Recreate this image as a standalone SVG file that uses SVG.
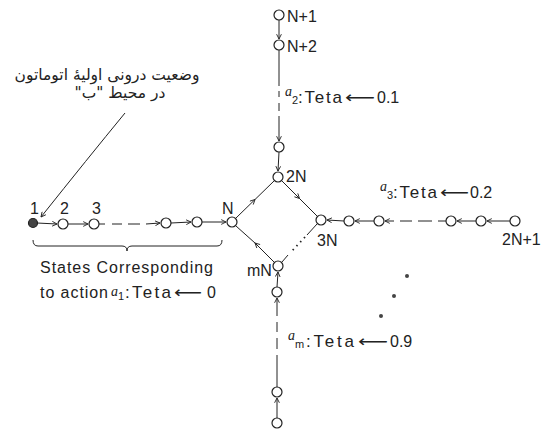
<svg xmlns="http://www.w3.org/2000/svg" width="542" height="430" viewBox="0 0 542 430">
<defs>
<marker id="ah" viewBox="0 0 10 10" refX="9" refY="5" markerWidth="6" markerHeight="6" orient="auto" markerUnits="userSpaceOnUse">
<path d="M1,1 L9,5 L1,9" fill="none" stroke="#222" stroke-width="1.5"/>
</marker>
</defs>
<style>
.n{fill:#fff;stroke:#222;stroke-width:1.2}
.f{fill:#444;stroke:#222;stroke-width:1.2}
.e{fill:none;stroke:#222;stroke-width:1;marker-end:url(#ah)}
.em{fill:none;stroke:#222;stroke-width:1;marker-mid:url(#ah)}
.t{font-family:"Liberation Sans",Arial,sans-serif;font-size:16px;font-style:normal;fill:#222}
.tt{font-family:"Liberation Sans",Arial,sans-serif;font-size:17px;font-style:normal;fill:#222}
.a{font-family:"Liberation Serif",serif;font-style:italic;font-size:14px;fill:#222}
.s{font-family:"Liberation Sans",Arial,sans-serif;font-style:normal;font-size:11px;fill:#222}
.arw{font-family:"DejaVu Sans",sans-serif;font-size:16px;fill:#222}
.ar{font-family:"DejaVu Sans","Noto Sans",sans-serif;font-size:15.5px;fill:#222}
</style>
<g id="connectors">
<line class="e" x1="37" y1="223" x2="57" y2="224"/>
<line class="e" x1="68" y1="224" x2="88" y2="224"/>
<path class="e" d="M99,224 L105,224 M112,224 L122,224 M128,224 L140,224 M146,224 L160,223"/>
<line class="e" x1="171" y1="223" x2="191" y2="222"/>
<line class="e" x1="202" y1="222" x2="226" y2="222"/>
<line class="e" x1="279" y1="20" x2="279" y2="39"/>
<path class="e" d="M279,50 L279,86 M279,91 L279,97 M279,103 L279,111 M279,116 L279,141"/>
<line class="e" x1="279" y1="152" x2="278" y2="171"/>
<polyline class="em" points="236,218 255,199.5 274,181"/>
<polyline class="em" points="282,181 299.5,198.5 317,216"/>
<path fill="none" stroke="#222" stroke-width="1" d="M317,224 L307,235"/>
<path fill="none" stroke="#222" stroke-width="1.8" stroke-dasharray="1.5 4" d="M305,237 L291,252"/>
<path fill="none" stroke="#222" stroke-width="1" d="M288,255 L282,262"/>
<polyline class="em" points="274,262 255,243 236,226"/>
<line class="e" x1="510" y1="221" x2="487" y2="221"/>
<line class="e" x1="476" y1="221" x2="457" y2="221"/>
<path class="e" d="M446,221 L438,221 M432,221 L418,221 M412,221 L400,221 M394,221 L385,221"/>
<line class="e" x1="374" y1="221" x2="355" y2="221"/>
<line class="e" x1="344" y1="221" x2="327" y2="220"/>
<line class="e" x1="277" y1="418" x2="277" y2="398"/>
<path class="e" d="M277,387 L277,355 M277,349 L277,338 M277,332 L277,322 M277,316 L277,298"/>
<line class="e" x1="277" y1="287" x2="278" y2="272"/>
<path class="e" d="M125,113 Q88,158 41,217"/>
<path fill="none" stroke="#222" stroke-width="1" d="M33,240 Q33,246 38,246 L122,246 Q127,246 127,251 Q127,246 132,246 L217,246 Q222,246 222,240"/>
</g>
<g id="n1"><circle class="f" cx="33" cy="223" r="4.5"/><text class="t" x="30" y="214">1</text></g>
<g id="n2"><circle class="n" cx="63" cy="224" r="5"/><text class="t" x="60" y="214">2</text></g>
<g id="n3"><circle class="n" cx="94" cy="224" r="5"/><text class="t" x="92" y="214">3</text></g>
<g id="nL4"><circle class="n" cx="166" cy="223" r="5"/></g>
<g id="nL5"><circle class="n" cx="197" cy="222" r="5"/></g>
<g id="nN"><circle class="n" cx="232" cy="222" r="5"/><text class="t" x="222" y="214">N</text></g>
<g id="nN1"><circle class="n" cx="279" cy="15" r="5"/><text class="t" x="287" y="22">N+1</text></g>
<g id="nN2"><circle class="n" cx="279" cy="45" r="5"/><text class="t" x="287" y="52">N+2</text></g>
<g id="nT3"><circle class="n" cx="279" cy="147" r="5"/></g>
<g id="n2N"><circle class="n" cx="278" cy="177" r="5"/><text class="t" x="286" y="182">2N</text></g>
<g id="n3N"><circle class="n" cx="321" cy="220" r="5"/><text class="t" x="317" y="246">3N</text></g>
<g id="nmN"><circle class="n" cx="278" cy="266" r="5"/><text class="t" x="247" y="276">mN</text></g>
<g id="nR1"><circle class="n" cx="349" cy="221" r="5"/></g>
<g id="nR2"><circle class="n" cx="379" cy="221" r="5"/></g>
<g id="nR3"><circle class="n" cx="451" cy="221" r="5"/></g>
<g id="nR4"><circle class="n" cx="481" cy="221" r="5"/></g>
<g id="n2N1"><circle class="n" cx="515" cy="221" r="5"/><text class="t" x="502" y="245">2N+1</text></g>
<g id="nB1"><circle class="n" cx="277" cy="292" r="5"/></g>
<g id="nB2"><circle class="n" cx="277" cy="392" r="5"/></g>
<g id="nB3"><circle class="n" cx="277" cy="423" r="5"/></g>
<g id="labels">
<text class="a" x="285" y="96">a</text><text class="s" x="292" y="104">2</text>
<text class="tt" x="298" y="103" textLength="44">:Teta</text>
<text class="arw" x="345" y="103" textLength="30" lengthAdjust="spacingAndGlyphs">⟵</text>
<text class="t" x="377" y="103">0.1</text>

<text class="a" x="380" y="191">a</text><text class="s" x="387" y="199">3</text>
<text class="tt" x="393" y="198" textLength="44">:Teta</text>
<text class="arw" x="440" y="198" textLength="29" lengthAdjust="spacingAndGlyphs">⟵</text>
<text class="t" x="470" y="198">0.2</text>

<text class="a" x="288" y="340">a</text><text class="s" x="295" y="348">m</text>
<text class="tt" x="306" y="347" textLength="48">:Teta</text>
<text class="arw" x="358" y="347" textLength="30" lengthAdjust="spacingAndGlyphs">⟵</text>
<text class="t" x="390" y="347">0.9</text>

<text class="t" x="40" y="273" textLength="173">States Corresponding</text>
<text class="t" x="40" y="298" textLength="68">to action</text>
<text class="a" x="111" y="296">a</text><text class="s" x="118" y="300">1</text>
<text class="tt" x="125" y="298" textLength="46">:Teta</text>
<text class="arw" x="174" y="298" textLength="28" lengthAdjust="spacingAndGlyphs">⟵</text>
<text class="t" x="207" y="298">0</text>

<text class="ar" x="107" y="80" text-anchor="middle" direction="rtl">وضعیت درونی اولیهٔ اتوماتون</text>
<text class="ar" x="120" y="98" text-anchor="middle" direction="rtl">در محیط "ب"</text>
<circle cx="407" cy="276" r="2" fill="#444"/>
<circle cx="394" cy="296" r="2" fill="#444"/>
<circle cx="381" cy="316" r="2" fill="#444"/>
</g>
</svg>
